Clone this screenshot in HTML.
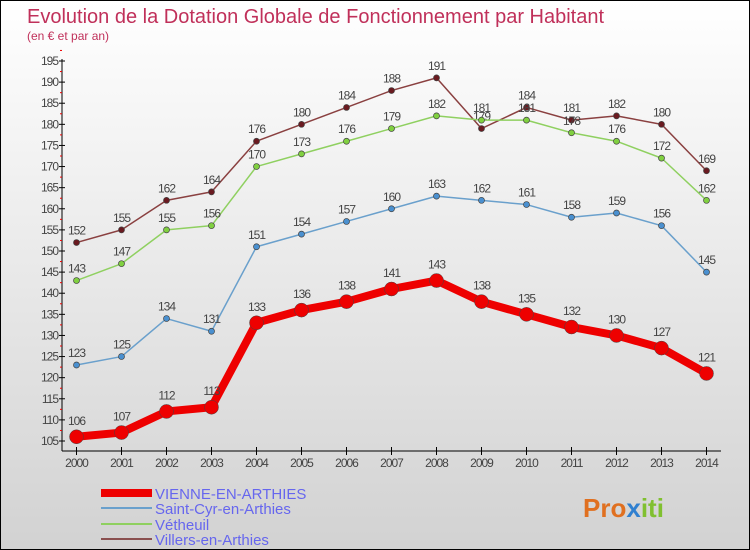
<!DOCTYPE html>
<html><head><meta charset="utf-8"><style>
body{margin:0}
#c{width:748px;height:548px;border:1px solid #000;background:linear-gradient(#fff,#d2d2d2);position:relative;font-family:"Liberation Sans",sans-serif;overflow:hidden}
</style></head><body>
<div id="c">
<svg id="s" width="748" height="548" style="position:absolute;left:0;top:0">
<text x="26" y="22" font-size="20" fill="#c0305a">Evolution de la Dotation Globale de Fonctionnement par Habitant</text>
<text x="26" y="39" font-size="12" fill="#c0305a">(en € et par an)</text>
<g id="ax"></g><g id="ser"></g>
<g>
<line x1="100" y1="492" x2="151" y2="492" stroke="#e00" stroke-width="8"/>
<text x="154" y="498" font-size="15" fill="#6666ee">VIENNE-EN-ARTHIES</text>
<line x1="100" y1="507" x2="151" y2="507" stroke="#6aa0cc" stroke-width="2"/>
<text x="154" y="513" font-size="15" fill="#6666ee">Saint-Cyr-en-Arthies</text>
<line x1="100" y1="523" x2="151" y2="523" stroke="#8fd060" stroke-width="2"/>
<text x="154" y="529" font-size="15" fill="#6666ee">Vétheuil</text>
<line x1="100" y1="538" x2="151" y2="538" stroke="#8a5050" stroke-width="2"/>
<text x="154" y="544" font-size="15" fill="#6666ee">Villers-en-Arthies</text>
</g>
<text x="582" y="516" font-size="26" font-weight="bold" fill="#e07020">Pro<tspan fill="#3080d0">x</tspan><tspan fill="#80c030">iti</tspan></text>
</svg>
</div>
<script>
const years=[2000,2001,2002,2003,2004,2005,2006,2007,2008,2009,2010,2011,2012,2013,2014];
const vienne=[106,107,112,113,133,136,138,141,143,138,135,132,130,127,121];
const stcyr=[123,125,134,131,151,154,157,160,163,162,161,158,159,156,145];
const vetheuil=[143,147,155,156,170,173,176,179,182,181,181,178,176,172,162];
const villers=[152,155,162,164,176,180,184,188,191,179,184,181,182,180,169];
const yTicks=[105,110,115,120,125,130,135,140,145,150,155,160,165,170,175,180,185,190,195];
const NS="http://www.w3.org/2000/svg";
const X=i=>75.5+i*45, Y=v=>440-(v-105)*380/90;
function mk(t,a,p){const e=document.createElementNS(NS,t);for(const k in a)e.setAttribute(k,a[k]);p.appendChild(e);return e;}
const ax=document.getElementById('ax');
let l=mk('line',{x1:61,y1:58,x2:61,y2:450,stroke:'#000'},ax);


l=mk('line',{x1:61,y1:450,x2:720,y2:450,stroke:'#000'},ax);


yTicks.forEach(v=>{const y=Y(v);mk('line',{x1:58,y1:y,x2:64,y2:y,stroke:'#000'},ax);
mk('line',{x1:59,y1:Y(v+2.5),x2:61,y2:Y(v+2.5),stroke:'#e00'},ax);
const t=mk('text',{x:57,y:y+4,'font-size':12,fill:'#444','text-anchor':'end','letter-spacing':'-1'},ax);t.textContent=v;

});
years.forEach((yr,i)=>{const x=X(i);mk('line',{x1:x,y1:446,x2:x,y2:454,stroke:'#000'},ax);
const t=mk('text',{x:x,y:466,'font-size':12,fill:'#444','text-anchor':'middle','letter-spacing':'-1'},ax);t.textContent=yr;

});
const ser=document.getElementById('ser');
function draw(d,col,dot,w,r,name){const g=mk('g',{},ser);


mk('polyline',{points:d.map((v,i)=>X(i)+','+Y(v)).join(' '),fill:'none',stroke:col,'stroke-width':w,'stroke-linejoin':'round'},g);
d.forEach((v,i)=>{mk('circle',{cx:X(i),cy:Y(v),r:r,fill:dot,stroke:'#444','stroke-width':r>4?0.5:0.7},g);
const t=mk('text',{x:X(i),y:Y(v)-(r>4?12:8),'font-size':12,fill:'#444','text-anchor':'middle','letter-spacing':'-1'},g);t.textContent=v;});}
draw(villers,'#8a4040','#6a1a20',1.5,3,'series-villers');
draw(vetheuil,'#8fd060','#80d040',1.5,3,'series-vetheuil');
draw(stcyr,'#6aa0cc','#4a90d0',1.5,3,'series-saint-cyr');
draw(vienne,'#e00','#e00',8,7,'series-vienne');
</script>
</body></html>
